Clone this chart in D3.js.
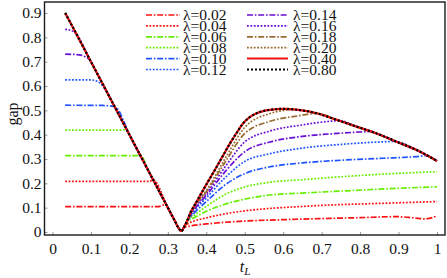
<!DOCTYPE html>
<html>
<head>
<meta charset="utf-8">
<script src="https://cdn.jsdelivr.net/npm/d3@7"></script>
<style>
  body { margin: 0; background: #fff; }
  svg text { font-family: "Liberation Serif", "Times New Roman", Times, serif; fill: #111; }
</style>
</head>
<body>
<div id="chart"></div>
<script>
// tick labels
const xTicks = [0, 0.1, 0.2, 0.3, 0.4, 0.5, 0.6, 0.7, 0.8, 0.9, 1];
const yTicks = [0, 0.1, 0.2, 0.3, 0.4, 0.5, 0.6, 0.7, 0.8, 0.9];

// lambda values, in legend order
const lambdas = ["0.02", "0.04", "0.06", "0.08", "0.10", "0.12", "0.14", "0.16", "0.18", "0.20", "0.40", "0.80"];

// common upper curve (lambda = 0.40 and 0.80), [t_L, gap]
const envelope = [[0.033, 0.9], [0.05, 0.85], [0.1, 0.7], [0.15, 0.55], [0.2, 0.4], [0.25, 0.25], [0.3, 0.1],
  [0.318, 0.046], [0.328, 0.016], [0.335, 0.003], [0.342, 0.02], [0.35, 0.045], [0.358, 0.077], [0.375, 0.125],
  [0.392, 0.173], [0.41, 0.222], [0.427, 0.268], [0.445, 0.318], [0.462, 0.365], [0.48, 0.41], [0.496, 0.447],
  [0.513, 0.472], [0.531, 0.488], [0.548, 0.497], [0.566, 0.502], [0.6, 0.506], [0.644, 0.501], [0.687, 0.488],
  [0.739, 0.461], [0.791, 0.433], [0.843, 0.405], [0.895, 0.371], [0.947, 0.337], [1.0, 0.292]];

// left branches (before joining the upper curve)
const left02 = [[0.033, 0.104], [0.15, 0.104], [0.27, 0.104], [0.285, 0.108], [0.294, 0.116]];
const left04 = [[0.033, 0.208], [0.15, 0.208], [0.25, 0.208], [0.262, 0.213]];
const left06 = [[0.033, 0.314], [0.15, 0.314], [0.215, 0.314], [0.228, 0.316]];
const left08 = [[0.033, 0.419], [0.12, 0.419], [0.18, 0.419], [0.193, 0.42]];
const left10 = [[0.033, 0.521], [0.13, 0.52], [0.158, 0.516], [0.172, 0.5], [0.184, 0.46]];
const left12 = [[0.033, 0.625], [0.1, 0.625], [0.118, 0.618], [0.128, 0.605]];
const left14 = [[0.033, 0.731], [0.07, 0.728], [0.085, 0.72], [0.098, 0.706]];
const left16 = [[0.033, 0.833], [0.045, 0.83], [0.058, 0.82]];

// right branches (after the minimum at t_L ~ 1/3)
const right02 = [[0.35, 0.022], [0.37, 0.028], [0.4, 0.033], [0.45, 0.04], [0.5, 0.045], [0.566, 0.049], [0.65, 0.053],
  [0.722, 0.056], [0.8, 0.059], [0.895, 0.063], [0.94, 0.058], [0.97, 0.054], [1.0, 0.066]];
const right04 = [[0.35, 0.032], [0.37, 0.046], [0.4, 0.058], [0.45, 0.075], [0.5, 0.087], [0.566, 0.097], [0.65, 0.105],
  [0.722, 0.111], [0.8, 0.115], [0.9, 0.12], [1.0, 0.125]];
const right06 = [[0.35, 0.04], [0.37, 0.06], [0.4, 0.085], [0.45, 0.115], [0.5, 0.135], [0.566, 0.152], [0.65, 0.16],
  [0.722, 0.166], [0.85, 0.176], [1.0, 0.186]];
const right08 = [[0.35, 0.043], [0.37, 0.07], [0.4, 0.105], [0.45, 0.155], [0.5, 0.185], [0.566, 0.205], [0.65, 0.215],
  [0.75, 0.227], [0.85, 0.237], [1.0, 0.248]];
const right10 = [[0.35, 0.044], [0.37, 0.08], [0.4, 0.125], [0.45, 0.195], [0.5, 0.24], [0.566, 0.268], [0.65, 0.284],
  [0.75, 0.295], [0.86, 0.303], [0.947, 0.31], [0.972, 0.314]];
const right12 = [[0.35, 0.045], [0.37, 0.09], [0.4, 0.14], [0.45, 0.225], [0.5, 0.29], [0.566, 0.322], [0.65, 0.345],
  [0.75, 0.36], [0.85, 0.37], [0.885, 0.372]];
const right14 = [[0.35, 0.045], [0.37, 0.095], [0.4, 0.15], [0.45, 0.25], [0.5, 0.33], [0.566, 0.37], [0.65, 0.393],
  [0.74, 0.405], [0.8, 0.411], [0.825, 0.413]];
const right16 = [[0.35, 0.045], [0.37, 0.1], [0.4, 0.158], [0.45, 0.27], [0.5, 0.37], [0.566, 0.415], [0.65, 0.44],
  [0.72, 0.455], [0.745, 0.458]];
const right18 = [[0.35, 0.045], [0.37, 0.105], [0.4, 0.165], [0.45, 0.29], [0.5, 0.405], [0.566, 0.455], [0.63, 0.475],
  [0.69, 0.487]];
const right20 = [[0.35, 0.045], [0.37, 0.108], [0.4, 0.17], [0.45, 0.305], [0.5, 0.43], [0.566, 0.487], [0.63, 0.503]];

const lefts = [left02, left04, left06, left08, left10, left12, left14, left16, [], []];
const rights = [right02, right04, right06, right08, right10, right12, right14, right16, right18, right20];

const colors = ["#ff1010", "#ff1010", "#66ee00", "#66ee00", "#1f55ff", "#1f55ff", "#6a0fd4", "#6a0fd4", "#9a6a30", "#9a6a30", "#ee1111", "#000000"];
const dotDash = "6,1.8,1.6,1.8";
const dotted = "1.8,1.6";
const dashes = [dotDash, dotted, dotDash, dotted, dotDash, dotted, dotDash, dotted, dotDash, dotted, null, "2,2"];

const W = 447, H = 278;
const svg = d3.select("#chart").append("svg")
  .attr("width", W).attr("height", H);

// frame box
const box = {left: 44.5, right: 445, top: 2, bottom: 235};

const x = d3.scaleLinear().domain([0, 1]).range([52.5, 437]);
const y = d3.scaleLinear().domain([0, 0.9]).range([232, 13]);

svg.append("clipPath").attr("id", "clip")
  .append("rect")
    .attr("x", box.left).attr("y", box.top)
    .attr("width", box.right - box.left).attr("height", box.bottom - box.top);

// x axis (labels below the frame)
const xAxis = svg.append("g")
  .attr("transform", `translate(0, ${box.bottom})`)
  .attr("font-family", null)
  .call(d3.axisBottom(x).tickValues(xTicks).tickSize(-3).tickPadding(8).tickFormat(d3.format("")));
xAxis.attr("font-family", null).select(".domain").remove();
xAxis.selectAll("line").attr("stroke", "#999");
xAxis.selectAll("text").style("font-size", "15.5px");

// y axis
const yAxis = svg.append("g")
  .attr("transform", `translate(${box.left}, 0)`)
  .call(d3.axisLeft(y).tickValues(yTicks).tickSize(-3).tickPadding(3).tickFormat(d3.format("")));
yAxis.attr("font-family", null).select(".domain").remove();
yAxis.selectAll("line").attr("stroke", "#999");
yAxis.selectAll("text").style("font-size", "15.5px");

svg.append("rect")
  .attr("x", box.left).attr("y", box.top)
  .attr("width", box.right - box.left).attr("height", box.bottom - box.top)
  .attr("fill", "none").attr("stroke", "#1a1a1a").attr("stroke-width", 1.4);

// axis titles
svg.append("text")
  .attr("transform", "translate(18, 114) rotate(-90)")
  .attr("text-anchor", "middle")
  .style("font-size", "16px")
  .text("gap");

const xt = svg.append("text")
  .attr("x", 245).attr("y", 272)
  .attr("text-anchor", "middle")
  .style("font-size", "16px").style("font-style", "italic");
xt.append("tspan").text("t");
xt.append("tspan").attr("dy", 3).style("font-size", "11px").text("L");

// build each full curve: left branch, upper curve in between, right branch, upper curve after
function buildCurve(i) {
  if (i >= 10) return envelope;
  const l = lefts[i], r = rights[i];
  const lEnd = l.length ? l[l.length - 1][0] : 0;
  const rStart = r[0][0], rEnd = r[r.length - 1][0];
  return [
    ...l,
    ...envelope.filter(p => p[0] > lEnd && p[0] < rStart),
    ...r,
    ...envelope.filter(p => p[0] > rEnd)
  ];
}

const line = d3.line()
  .x(d => x(d[0]))
  .y(d => y(d[1]))
  .curve(d3.curveMonotoneX);

const plot = svg.append("g").attr("clip-path", "url(#clip)");

plot.selectAll("path.curve")
  .data(lambdas)
  .enter()
  .append("path")
    .attr("class", "curve")
    .attr("d", (d, i) => line(buildCurve(i)))
    .attr("fill", "none")
    .attr("stroke", (d, i) => colors[i])
    .attr("stroke-width", (d, i) => i >= 10 ? 2.2 : 1.7)
    .attr("stroke-dasharray", (d, i) => dashes[i]);

// legend
const legend = svg.append("g");
lambdas.forEach((lam, i) => {
  const col = i < 6 ? 0 : 1;
  const row = i % 6;
  const lx = col === 0 ? 146 : 247;
  const ly = 15 + row * 10.9;
  legend.append("line")
    .attr("x1", lx).attr("x2", lx + (col === 0 ? 34 : 41))
    .attr("y1", ly).attr("y2", ly)
    .attr("stroke", colors[i])
    .attr("stroke-width", i >= 10 ? 2 : 1.7)
    .attr("stroke-dasharray", dashes[i]);
  legend.append("text")
    .attr("x", col === 0 ? 183 : 293)
    .attr("y", ly + 5)
    .style("font-size", "15.5px")
    .text("λ=" + lam);
});
</script>
</body>
</html>
